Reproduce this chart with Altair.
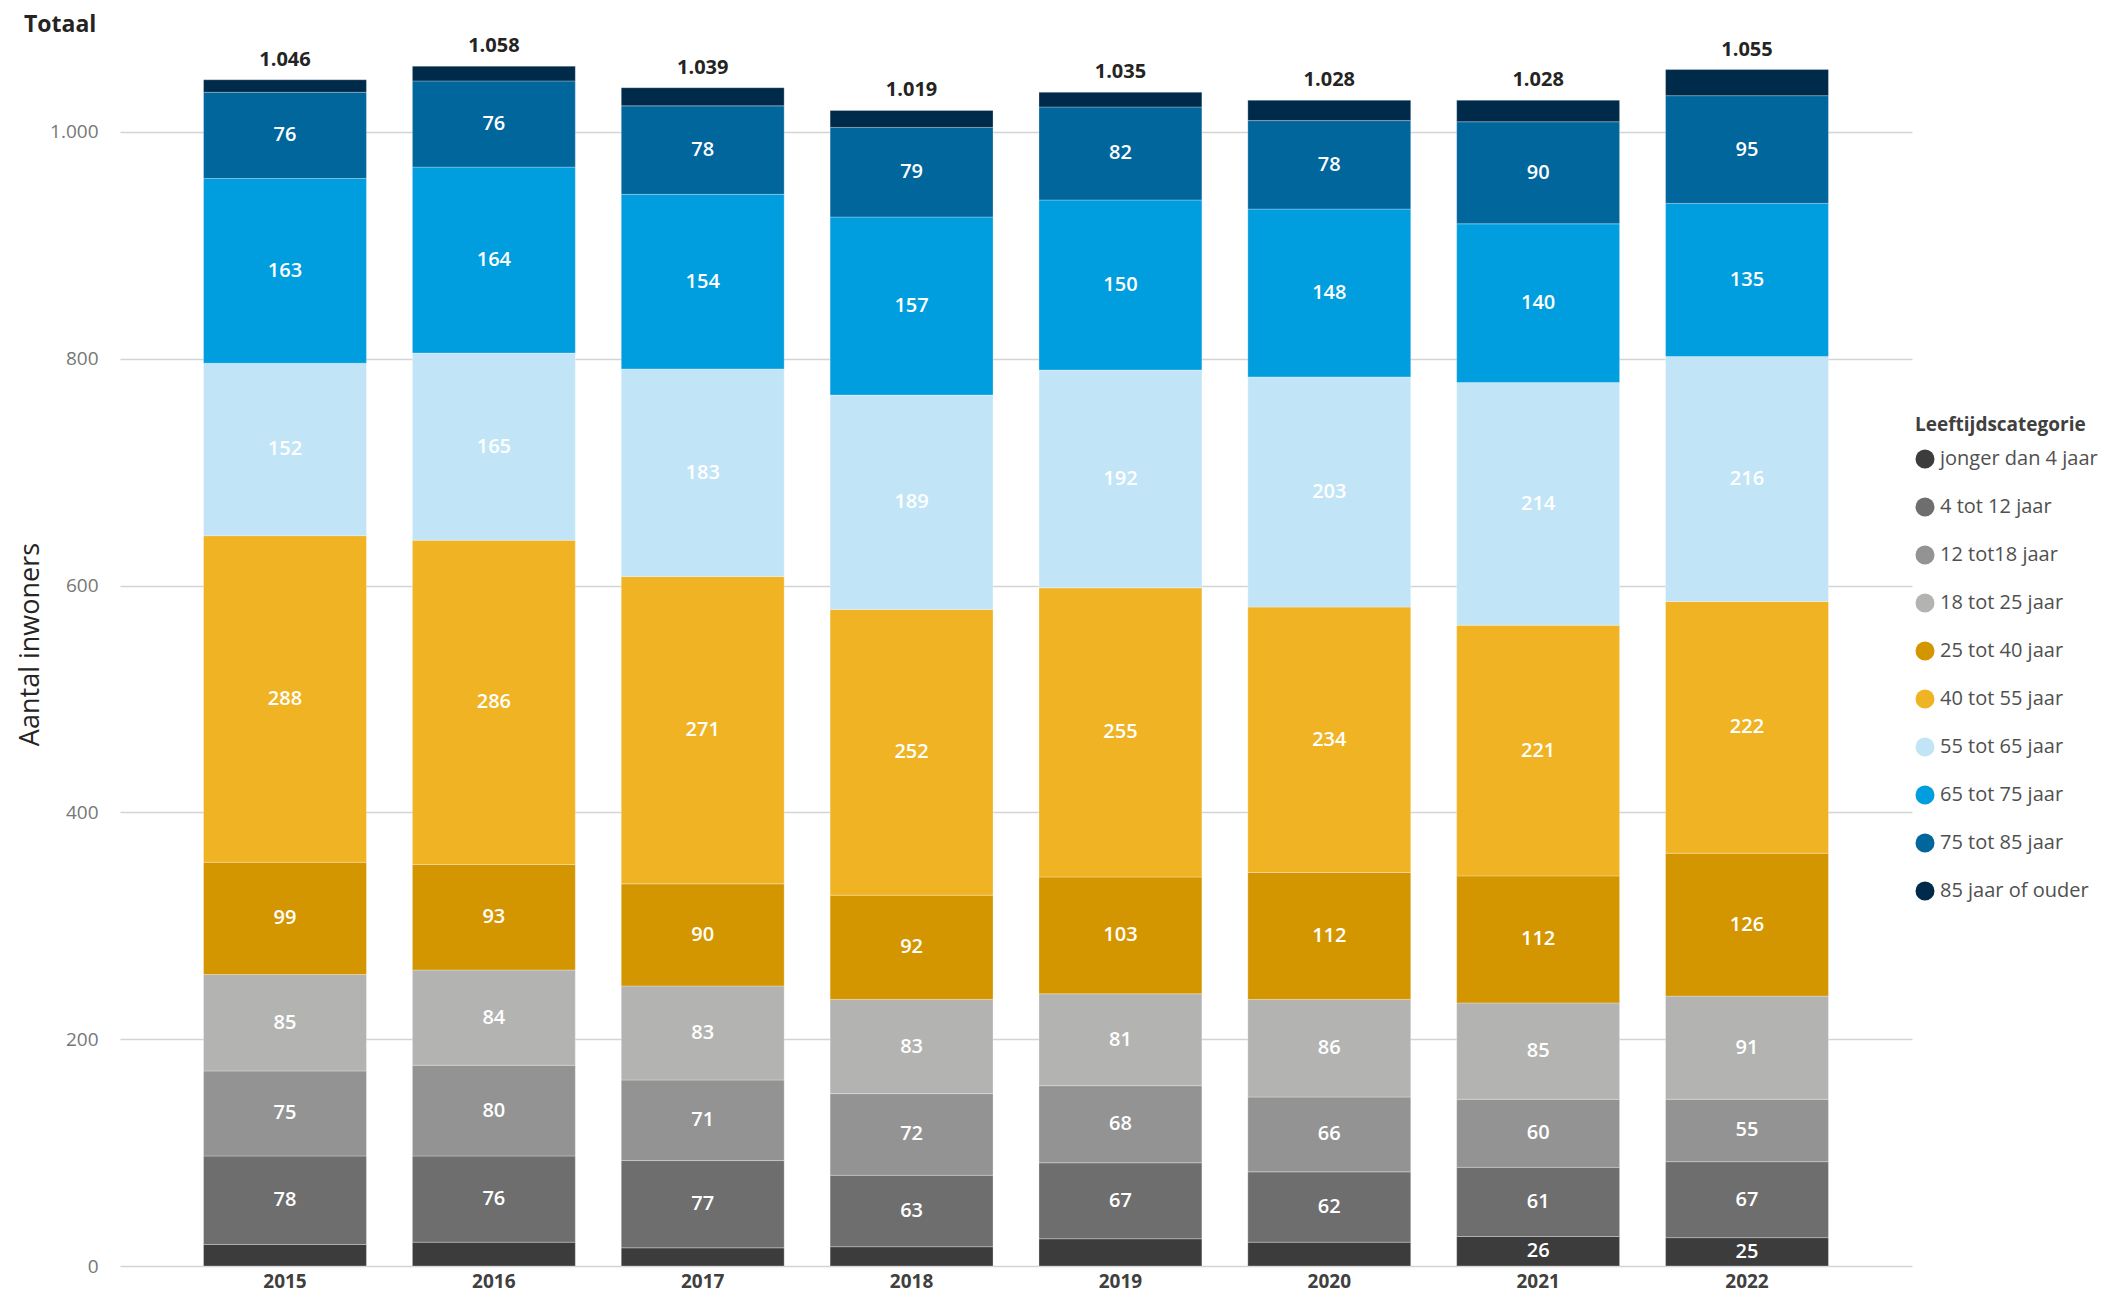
import altair as alt
import pandas as pd

years = ["2015", "2016", "2017", "2018", "2019", "2020", "2021", "2022"]
categories = ["jonger dan 4 jaar", "4 tot 12 jaar", "12 tot18 jaar", "18 tot 25 jaar",
              "25 tot 40 jaar", "40 tot 55 jaar", "55 tot 65 jaar", "65 tot 75 jaar",
              "75 tot 85 jaar", "85 jaar of ouder"]
colors = ["#3c3c3c", "#6e6e6e", "#939393", "#b3b4b2", "#d49600", "#f0b323",
          "#c1e5f7", "#009ede", "#00669b", "#002a4a"]

jonger_dan_4 = [19, 21, 16, 17, 24, 21, 26, 25]
tot_12 = [78, 76, 77, 63, 67, 62, 61, 67]
tot_18 = [75, 80, 71, 72, 68, 66, 60, 55]
tot_25 = [85, 84, 83, 83, 81, 86, 85, 91]
tot_40 = [99, 93, 90, 92, 103, 112, 112, 126]
tot_55 = [288, 286, 271, 252, 255, 234, 221, 222]
tot_65 = [152, 165, 183, 189, 192, 203, 214, 216]
tot_75 = [163, 164, 154, 157, 150, 148, 140, 135]
tot_85 = [76, 76, 78, 79, 82, 78, 90, 95]
ouder_85 = [11, 13, 16, 15, 13, 18, 19, 23]
totals = [1046, 1058, 1039, 1019, 1035, 1028, 1028, 1055]
chart_title = ["Totaal"]

series = [jonger_dan_4, tot_12, tot_18, tot_25, tot_40, tot_55, tot_65, tot_75, tot_85, ouder_85]

rows = []
for idx, (cat, vals) in enumerate(zip(categories, series)):
    for y, v in zip(years, vals):
        rows.append({"year": y, "cat": cat, "idx": idx, "value": v})
df = pd.DataFrame(rows)
tot_df = pd.DataFrame({"year": years, "total": totals})
title_df = pd.DataFrame({"t": chart_title})

FONT = "'Open Sans', 'Liberation Sans', sans-serif"

x_enc = alt.X("year:N", sort=years,
              scale=alt.Scale(paddingInner=0.22, paddingOuter=0.4),
              axis=alt.Axis(title=None, labelAngle=0, domain=False, ticks=False,
                            labelFont=FONT, labelFontSize=19, labelFontWeight="bold",
                            labelColor="#404040", labelPadding=6))

y_scale = alt.Scale(domain=[0, 1104], nice=False)

bars = alt.Chart(df).mark_bar(stroke="white", strokeWidth=0.8, strokeOpacity=0.35).encode(
    x=x_enc,
    y=alt.Y("value:Q", stack="zero", scale=y_scale,
            axis=alt.Axis(title="Aantal inwoners", values=[0, 200, 400, 600, 800, 1000],
                          domain=False, ticks=False, grid=True, gridColor="#d4d4d4",
                          gridWidth=1.5, labelFont=FONT, labelFontSize=19,
                          labelColor="#777777", labelPadding=22,
                          labelExpr="replace(datum.label, ',', '.')",
                          titleFont=FONT, titleFontSize=27, titleFontWeight="normal",
                          titleColor="#252423", titleAngle=-90, titleX=-90,
                          titleY=630, titleAlign="center", titleBaseline="middle")),
    color=alt.Color("cat:N", sort=categories,
                    scale=alt.Scale(domain=categories, range=colors),
                    legend=alt.Legend(title="Leeftijdscategorie", orient="none",
                                      legendX=1795, legendY=402,
                                      symbolType="circle", symbolSize=361,
                                      symbolStrokeWidth=0,
                                      titleFont=FONT, titleFontSize=19,
                                      titleFontWeight="bold", titleColor="#404040",
                                      titlePadding=14,
                                      labelFont=FONT, labelFontSize=20,
                                      labelColor="#505050", labelOffset=5,
                                      rowPadding=28)),
    order=alt.Order("idx:Q", sort="ascending"),
)

labels = alt.Chart(df).transform_stack(
    stack="value", groupby=["year"],
    sort=[alt.SortField("idx", order="ascending")], as_=["y0", "y1"]
).transform_calculate(
    mid="(datum.y0 + datum.y1) / 2"
).transform_filter(
    "datum.value >= 25"
).mark_text(font=FONT, fontSize=20, fontWeight=600, color="white", baseline="middle").encode(
    x=alt.X("year:N", sort=years),
    y=alt.Y("mid:Q", scale=y_scale),
    text=alt.Text("value:Q"),
)

tot_text = alt.Chart(tot_df).transform_calculate(
    lbl="replace(format(datum.total, ','), ',', '.')"
).mark_text(font=FONT, fontSize=20, fontWeight="bold", color="#252423",
            baseline="bottom", dy=-10).encode(
    x=alt.X("year:N", sort=years),
    y=alt.Y("total:Q", scale=y_scale),
    text=alt.Text("lbl:N"),
)

title_text = alt.Chart(title_df).mark_text(
    font=FONT, fontSize=23, fontWeight="bold", color="#252423",
    align="left", baseline="middle"
).encode(
    x=alt.value(-96), y=alt.value(11), text=alt.Text("t:N")
)

chart = alt.layer(bars, labels, tot_text, title_text).properties(
    width=1792, height=1252,
    background="white",
    autosize=alt.AutoSizeParams(type="none"),
    padding={"left": 112, "top": 6, "right": 191, "bottom": 30},
).configure_view(stroke=None)

chart.save("out.html", embed_options={"renderer": "svg", "actions": False})
